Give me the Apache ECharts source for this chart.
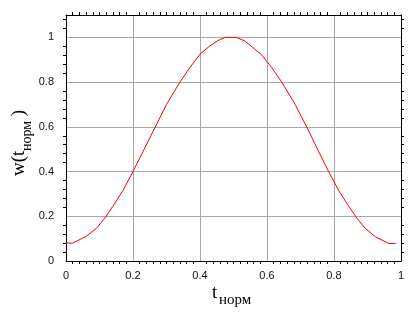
<!DOCTYPE html>
<html>
<head>
<meta charset="utf-8">
<script src="https://cdn.jsdelivr.net/npm/echarts@6/dist/echarts.min.js"></script>
<style>
html,body{margin:0;padding:0;background:#fff;}
#c{width:420px;height:320px;}
</style>
</head>
<body>
<div id="c"></div>
<script>
// normalized time
var tNorm = [0, 0.02, 0.06, 0.09, 0.115, 0.14, 0.17, 0.2, 0.23, 0.265, 0.3, 0.34, 0.37, 0.40, 0.428, 0.452, 0.476,
             0.508, 0.532, 0.556, 0.584, 0.614, 0.644, 0.684, 0.719, 0.754, 0.784, 0.814, 0.844, 0.869, 0.894, 0.924, 0.964, 0.984];
// window values w(t)
var wValues = [0.08, 0.08, 0.11, 0.145, 0.19, 0.245, 0.315, 0.40, 0.49, 0.595, 0.70, 0.80, 0.865, 0.925, 0.96, 0.985, 1.0,
               1.0, 0.985, 0.957, 0.922, 0.865, 0.80, 0.70, 0.598, 0.49, 0.40, 0.315, 0.245, 0.19, 0.145, 0.108, 0.078, 0.078];
var xTicks = [0, 0.2, 0.4, 0.6, 0.8, 1];
var yTicks = [0, 0.2, 0.4, 0.6, 0.8, 1];

var pts = tNorm.map(function (t, i) { return [t, wValues[i]]; });
var labelFont = { fontFamily: '"Liberation Sans", Arial, sans-serif', fontSize: 11, color: '#111' };
var serif = '"Liberation Serif", "Times New Roman", serif';

function isTick(list, v) {
  for (var i = 0; i < list.length; i++) { if (Math.abs(list[i] - v) < 1e-6) return true; }
  return false;
}
function fmt(v) { return String(Math.round(v * 10) / 10); }

var chart = echarts.init(document.getElementById('c'), null, { renderer: 'canvas' });
chart.setOption({
  backgroundColor: '#fff',
  animation: false,
  grid: { left: 66, right: 19, top: 15, bottom: 59 },
  xAxis: [{
    type: 'value', min: 0, max: 1, interval: 0.2,
    axisLine: { show: true, onZero: false, lineStyle: { color: '#000', width: 1 } },
    axisTick: { show: false },
    minorTick: { show: true, splitNumber: 10, length: 3, lineStyle: { color: '#000' } },
    axisLabel: Object.assign({ margin: 9, formatter: function (v) { return isTick(xTicks, v) ? fmt(v) : ''; } }, labelFont),
    splitLine: { show: true, lineStyle: { color: '#a8a8a8', width: 1 } }
  }, {
    type: 'value', min: 0, max: 1, interval: 0.2, position: 'top',
    axisLine: { show: true, onZero: false, lineStyle: { color: '#000', width: 1 } },
    axisTick: { show: false },
    minorTick: { show: true, splitNumber: 10, length: 3, lineStyle: { color: '#000' } },
    axisLabel: { show: false },
    splitLine: { show: false }
  }],
  yAxis: [{
    type: 'value', min: 0, max: 1.1, interval: 0.2,
    axisLine: { show: true, onZero: false, lineStyle: { color: '#000', width: 1 } },
    axisTick: { show: false },
    minorTick: { show: true, splitNumber: 5, length: 3, lineStyle: { color: '#000' } },
    axisLabel: Object.assign({ margin: 12, showMaxLabel: false, formatter: function (v) { return isTick(yTicks, v) ? fmt(v) : ''; } }, labelFont),
    splitLine: { show: true, lineStyle: { color: '#a8a8a8', width: 1 } }
  }, {
    type: 'value', min: 0, max: 1.1, interval: 0.2, position: 'right',
    axisLine: { show: true, onZero: false, lineStyle: { color: '#000', width: 1 } },
    axisTick: { show: false },
    minorTick: { show: true, splitNumber: 5, length: 3, lineStyle: { color: '#000' } },
    axisLabel: { show: false },
    splitLine: { show: false }
  }],
  series: [{
    type: 'line', xAxisIndex: 0, yAxisIndex: 0,
    data: pts, showSymbol: false, symbol: 'none', smooth: false,
    lineStyle: { color: '#ff0000', width: 1 }
  }],
  graphic: [
    { type: 'text', x: 212, y: 303, style: { text: 't', font: '19px ' + serif, fill: '#000', verticalAlign: 'bottom', align: 'left' } },
    { type: 'text', x: 219, y: 308, style: { text: 'норм', font: '15px ' + serif, fill: '#000', verticalAlign: 'bottom', align: 'left' } },
    { type: 'group', x: 29, y: 176, rotation: Math.PI / 2, children: [
      { type: 'text', x: 0, y: 0, style: { text: 'w(t', font: '19px ' + serif, fill: '#000', verticalAlign: 'bottom', align: 'left' } },
      { type: 'text', x: 25, y: 5, style: { text: 'норм', font: '14px ' + serif, fill: '#000', verticalAlign: 'bottom', align: 'left' } },
      { type: 'text', x: 55, y: 0, style: { text: ' )', font: '19px ' + serif, fill: '#000', verticalAlign: 'bottom', align: 'left' } }
    ]}
  ]
});
</script>
</body>
</html>
